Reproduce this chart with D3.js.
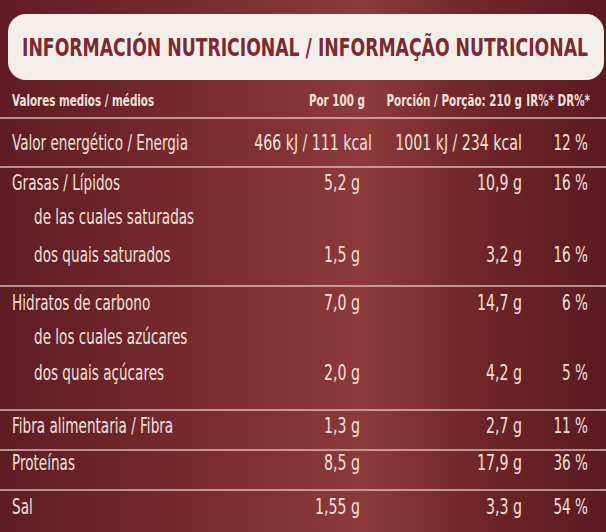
<!DOCTYPE html><html><head><meta charset="utf-8">
<script src="https://cdn.jsdelivr.net/npm/d3@7/dist/d3.min.js"></script>
<style>body{margin:0;background:#6e2428}text{font-family:"Liberation Sans Narrow","DejaVu Sans Condensed","DejaVu Sans",sans-serif}</style></head><body>
<script>
const title = "INFORMACIÓN NUTRICIONAL / INFORMAÇÃO NUTRICIONAL";
const headers = ["Valores medios / médios","Por 100 g","Porción / Porção: 210 g","IR%* DR%*"];
const labels = ["Valor energético / Energia","Grasas / Lípidos","de las cuales saturadas","dos quais saturados","Hidratos de carbono","de los cuales azúcares","dos quais açúcares","Fibra alimentaria / Fibra","Proteínas","Sal"];
const indent = [0,0,1,1,0,1,1,0,0,0];
const per100 = ["466 kJ / 111 kcal","5,2 g","","1,5 g","7,0 g","","2,0 g","1,3 g","8,5 g","1,55 g"];
const portion = ["1001 kJ / 234 kcal","10,9 g","","3,2 g","14,7 g","","4,2 g","2,7 g","17,9 g","3,3 g"];
const pct = ["12 %","16 %","","16 %","6 %","","5 %","11 %","36 %","54 %"];
const rowY = [150,190,224,262,310,344,380,433,470,514];
const sepY = [118,167,286,410,450,490];

const W=606,H=532;
const svg=d3.select("body").append("svg").attr("width",W).attr("height",H);
const defs=svg.append("defs");
const g=defs.append("linearGradient").attr("id","bg").attr("x1",0).attr("x2",1);
[[0,"#5e1c22"],[0.35,"#7a2c30"],[0.6,"#8c3a3c"],[0.8,"#6e2428"],[1,"#5a1a20"]].forEach(s=>g.append("stop").attr("offset",s[0]).attr("stop-color",s[1]));
svg.append("rect").attr("width",W).attr("height",H).attr("fill","url(#bg)");
svg.append("rect").attr("x",8).attr("y",14).attr("width",W-10).attr("height",66).attr("rx",18).attr("fill","#f4eeea");
svg.append("text").attr("x",22).attr("y",56).attr("fill","#7a2a30").attr("font-size",25).attr("font-weight","bold")
 .attr("textLength",566).attr("lengthAdjust","spacingAndGlyphs").text(title);

const col="#efe0dc";
const hx=[12,365,522,590];
const cond=(sel,k)=>sel.each(function(){const w=this.getComputedTextLength();if(w>0)d3.select(this).attr("textLength",w*k).attr("lengthAdjust","spacingAndGlyphs");});
svg.selectAll(".h").data(headers).join("text").attr("x",(d,i)=>hx[i]).attr("y",106)
 .attr("text-anchor",(d,i)=>i?"end":"start").attr("fill",col).attr("font-size",16).attr("font-weight","bold").text(d=>d).call(cond,0.72);
svg.selectAll(".s").data(sepY).join("line").attr("x1",0).attr("x2",W).attr("y1",d=>d).attr("y2",d=>d).attr("stroke","#d9b8b4").attr("stroke-width",1.5);
const fs=21;
svg.selectAll(".l").data(labels).join("text").attr("x",(d,i)=>indent[i]?34:12).attr("y",(d,i)=>rowY[i]).attr("fill",col).attr("font-size",fs).text(d=>d).call(cond,0.72);
svg.selectAll(".a").data(per100).join("text").attr("x",d=>d.includes("kJ")?372:360).attr("y",(d,i)=>rowY[i]).attr("text-anchor","end").attr("fill",col).attr("font-size",fs).text(d=>d).call(cond,0.75);
svg.selectAll(".b").data(portion).join("text").attr("x",522).attr("y",(d,i)=>rowY[i]).attr("text-anchor","end").attr("fill",col).attr("font-size",fs).text(d=>d).call(cond,0.75);
svg.selectAll(".c").data(pct).join("text").attr("x",588).attr("y",(d,i)=>rowY[i]).attr("text-anchor","end").attr("fill",col).attr("font-size",fs).text(d=>d).call(cond,0.72);
</script></body></html>
